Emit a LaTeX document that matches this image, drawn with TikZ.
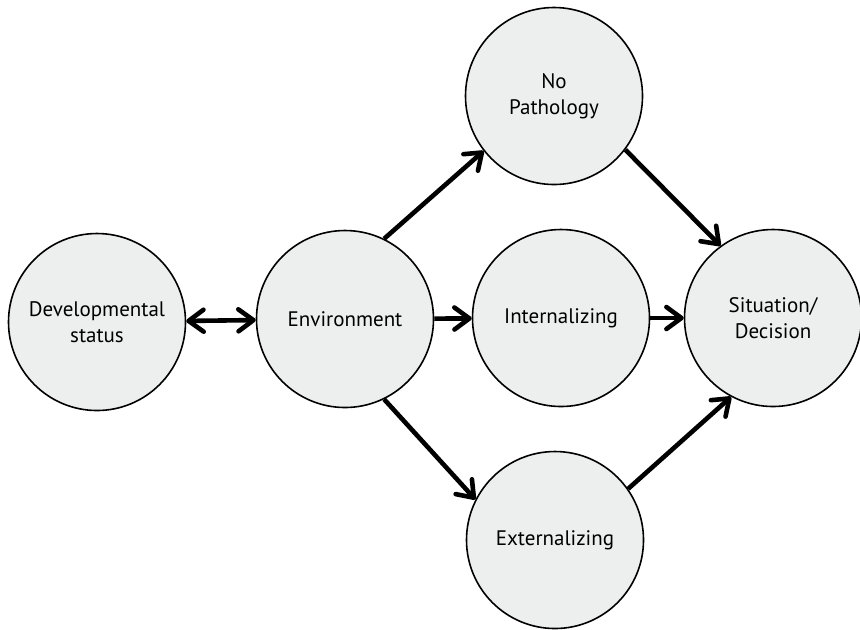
\documentclass[tikz,border=0pt]{standalone}
\usepackage{fontspec}
\setmainfont{PT Sans}
\definecolor{NodeGray}{RGB}{237, 238, 238}
\usetikzlibrary{arrows.meta}

\begin{document}
\begin{tikzpicture}[x=0.5pt, y=-0.5pt,
  every node/.style={font=\fontsize{10.5}{13}\selectfont, align=center},
  stage/.style={circle, draw=black, line width=0.8pt, fill=NodeGray, minimum size=88.5pt, inner sep=0pt},
  link/.style={line width=2.3pt, >={Straight Barb[length=7.5pt, width=11pt, round]}, ->}]
\useasboundingbox (0,0) rectangle (860,629);
\node[stage] (dev) at (97,322) {Developmental\\status};
\node[stage] (env) at (345,319) {Environment};
\node[stage] (nopath) at (554,96) {No\\Pathology};
\node[stage] (intern) at (561,318) {Internalizing};
\node[stage] (extern) at (555,540) {Externalizing};
\node[stage] (sit) at (773,318) {Situation/\\Decision};

\draw[link, <->] (dev) -- (env);
\draw[link] (env.64) -- (nopath.218);
\draw[link] (env) -- (intern);
\draw[link] (env.-64) -- (extern.153);
\draw[link] (nopath.-37) -- (sit.126);
\draw[link] (intern) -- (sit);
\draw[link] (extern.35) -- (sit.242);
\end{tikzpicture}
\end{document}
